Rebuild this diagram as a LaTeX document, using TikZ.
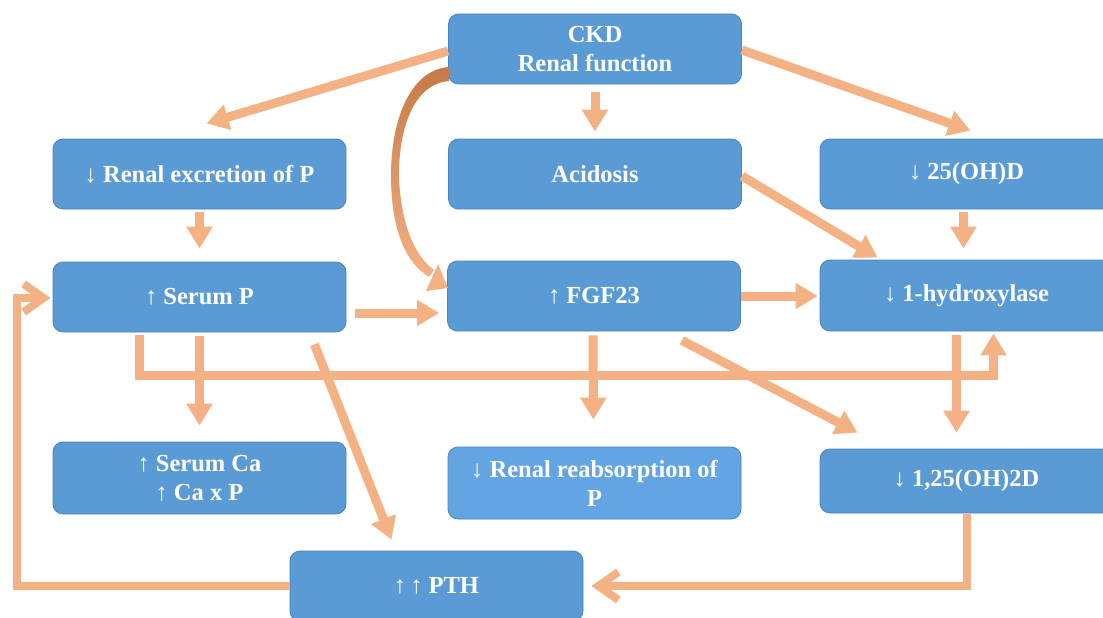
\documentclass[tikz,border=0pt]{standalone}
\usepackage{fontspec}
\setmainfont{Liberation Serif}
\usetikzlibrary{arrows.meta,calc}
\definecolor{boxblue}{HTML}{5B9BD5}
\definecolor{boxlight}{HTML}{62A5E2}
\definecolor{boxedge}{HTML}{4A84BC}
\definecolor{peach}{HTML}{F4B183}
\definecolor{brownish}{HTML}{C47A45}
\newcommand{\mydn}{{\mdseries ↓}}
\newcommand{\myup}{{\mdseries ↑}}
\begin{document}
\begin{tikzpicture}[x=1pt,y=-1pt,
  box/.style={rectangle, rounded corners=10pt, minimum width=293pt, minimum height=70pt,
    fill=boxblue, draw=boxedge, line width=0.8pt, text=white,
    font=\fontsize{24.5}{29}\selectfont\bfseries, align=center, inner sep=0pt},
  arr/.style={draw=peach, line width=9pt, -{Triangle[length=22pt,width=25pt]}},
  barb/.style={draw=peach, line width=8pt, -{Straight Barb[length=20pt,width=28pt]}},
]
\useasboundingbox (0,0) rectangle (1103,618);
\fill[white] (0,0) rectangle (1103,618);
\clip (0,0) rectangle (1103,618);

% boxes
\node[box] (ckd)  at (595,49)    {CKD\\Renal function};
\node[box] (rex)  at (199.5,174) {\mydn\ Renal excretion of P};
\node[box] (acid) at (595,174)   {Acidosis};
\node[box] (d25)  at (966.5,174) {\mydn\ 25(OH)D};
\node[box] (serp) at (199.5,297) {\myup\ Serum P};
\node[box] (fgf)  at (594,296)   {\myup\ FGF23};
\node[box, minimum height=71pt] (hyd) at (966.5,295.5) {\mydn\ 1-hydroxylase};
\node[box, minimum height=72pt] (sca) at (199.5,478) {\myup\ Serum Ca\\\myup\ Ca x P};
\node[box, minimum height=72pt, fill=boxlight] (rrp) at (594.5,483) {\mydn\ Renal reabsorption of\\P};
\node[box, minimum height=64pt] (d125) at (966.5,481) {\mydn\ 1,25(OH)2D};
\node[box] (pth)  at (436.5,586) {\myup\,\myup\ PTH};

% connectors
\draw[arr] ($(ckd.west)+(0,2)$) -- ($(rex.north)+(7,-15)$);
\draw[arr] ($(ckd.south)+(0,8)$) -- ($(acid.north)+(0,-7)$);
\draw[arr] ($(ckd.east)+(0,1)$) -- ($(d25.north)+(4,-8)$);

% curved tapered arrow CKD -> FGF23
\shade[top color=brownish, middle color=peach, bottom color=peach]
  (449,67) .. controls (408,70) and (390,125) .. (391,180)
  .. controls (392,230) and (405,262) .. (429,277)
  -- (434,270)
  .. controls (414,255) and (402,226) .. (399,180)
  .. controls (398,130) and (413,84) .. (449,81) -- cycle;
\fill[peach] (448,288) -- (438,264) -- (426,291) -- cycle;

\draw[arr] ($(rex.south)+(0,3)$) -- ($(serp.north)+(0,-13)$);
\draw[arr] ($(acid.east)+(0,2)$) -- ($(hyd.north west)+(58,-2)$);
\draw[arr] ($(d25.south)+(-3,3)$) -- ($(hyd.north)+(-3,-11)$);
\draw[arr] ($(serp.east)+(9,16)$) -- ($(fgf.west)+(-8,17)$);
\draw[arr] (fgf.east) -- ($(fgf.east -| hyd.west)+(-2,0)$);
\draw[arr] ($(serp.south)+(0,4)$) -- ($(sca.north)+(0,-16)$);
\draw[arr] ($(serp.south west)+(87,3)$) |- ($(hyd.south)+(27,44)$) -- ($(hyd.south)+(27,2)$);
\draw[arr] ($(serp.south east)+(-32,12)$) -- ($(pth.north west)+(102,-11)$);
\draw[arr] ($(fgf.south)+(-1,4)$) -- ($(rrp.north)+(-1,-27)$);
\draw[arr] ($(fgf.south east)+(-59,9)$) -- ($(d125.north west)+(38,-16)$);
\draw[arr] ($(hyd.south)+(-10,4)$) -- ($(d125.north)+(-10,-16)$);
\draw[barb] ($(d125.south)+(0,1)$) |- ($(pth.east)+(8,0)$);
\draw[barb] (pth.west) -- ++(-273,0) |- ($(serp.west)+(-2,1)$);
\end{tikzpicture}
\end{document}
